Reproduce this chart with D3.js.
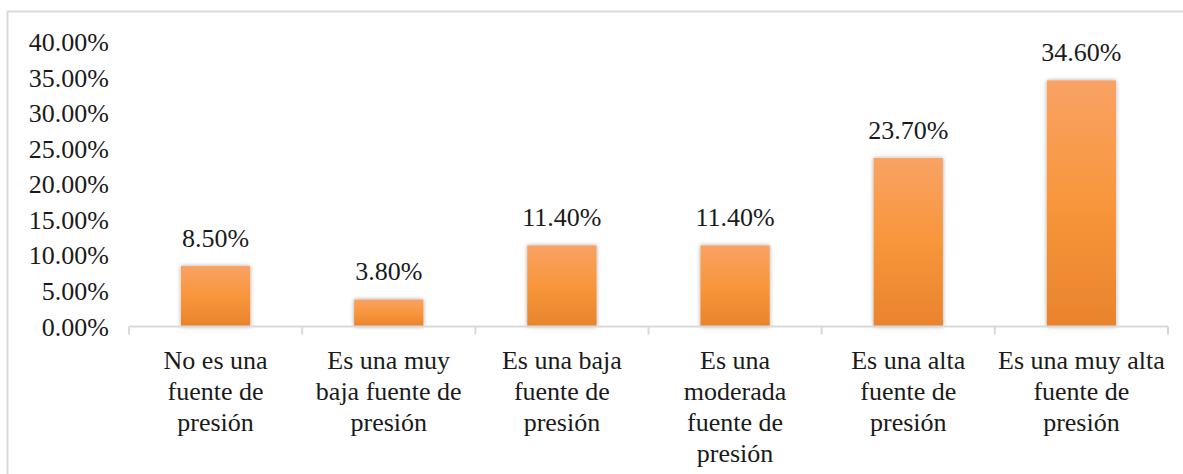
<!DOCTYPE html>
<html>
<head>
<meta charset="utf-8">
<script src="https://cdn.jsdelivr.net/npm/d3@7"></script>
<style>
  html, body { margin: 0; padding: 0; background: #ffffff; }
  svg { display: block; }
  svg text { font-family: "Times New Roman", "Liberation Serif", "DejaVu Serif", serif; fill: #1a1a1a; }
</style>
</head>
<body>
<svg id="chart" width="1183" height="474"></svg>
<script>
// Categories (one label per line) and their percentages
const categories = [
  ["No es una", "fuente de", "presión"],
  ["Es una muy", "baja fuente de", "presión"],
  ["Es una baja", "fuente de", "presión"],
  ["Es una", "moderada", "fuente de", "presión"],
  ["Es una alta", "fuente de", "presión"],
  ["Es una muy alta", "fuente de", "presión"]
];
const values = [8.5, 3.8, 11.4, 11.4, 23.7, 34.6];
const yTicks = [0, 5, 10, 15, 20, 25, 30, 35, 40];

const svg = d3.select("#chart");
const W = 1183, H = 474;
const fontSize = 26;
const serif = "'Times New Roman', 'Liberation Serif', 'DejaVu Serif', serif";

// Outer frame (runs past the right and bottom edges)
svg.append("rect")
  .attr("x", 7.5).attr("y", 11.5)
  .attr("width", W + 10).attr("height", H + 10)
  .attr("fill", "#ffffff")
  .attr("stroke", "#d9d9d9")
  .attr("stroke-width", 2);

const plot = { left: 129, right: 1168, top: 42, bottom: 326.5 };

const x = d3.scaleBand()
  .domain(d3.range(categories.length))
  .range([plot.left, plot.right])
  .paddingInner(0.6)
  .paddingOuter(0.3);

const y = d3.scaleLinear()
  .domain([0, 40])
  .range([plot.bottom, plot.top]);

// Bar fill gradient and soft shadow
const defs = svg.append("defs");
const grad = defs.append("linearGradient")
  .attr("id", "barFill").attr("x1", 0).attr("y1", 0).attr("x2", 0).attr("y2", 1);
grad.append("stop").attr("offset", "0%").attr("stop-color", "#f9a264");
grad.append("stop").attr("offset", "50%").attr("stop-color", "#f8963b");
grad.append("stop").attr("offset", "100%").attr("stop-color", "#e9832d");

const shadow = defs.append("filter").attr("id", "barShadow")
  .attr("x", "-30%").attr("y", "-10%").attr("width", "160%").attr("height", "120%");
shadow.append("feDropShadow")
  .attr("dx", 0).attr("dy", 0).attr("stdDeviation", 2.2)
  .attr("flood-color", "#000000").attr("flood-opacity", 0.35);

// Y axis labels (no axis line)
const yAxis = d3.axisLeft(y)
  .tickValues(yTicks)
  .tickSize(0)
  .tickPadding(0)
  .tickFormat(d => d.toFixed(2) + "%");
const gy = svg.append("g")
  .attr("transform", "translate(109,0)")
  .call(yAxis)
  .attr("font-family", serif)
  .attr("font-size", fontSize);
gy.select(".domain").remove();
gy.selectAll("text")
  .attr("fill", "#1a1a1a")
  .attr("dy", "0.33em");

// Bars
svg.append("g").selectAll("rect")
  .data(values)
  .join("rect")
  .attr("x", (d, i) => x(i))
  .attr("width", x.bandwidth())
  .attr("y", d => y(d))
  .attr("height", d => y(0) - y(d))
  .attr("fill", "url(#barFill)")
  .attr("filter", "url(#barShadow)");

// X axis line with category-boundary ticks
const step = x.step();
const boundaries = d3.range(categories.length + 1).map(i => plot.left + i * step);
svg.append("line")
  .attr("x1", plot.left).attr("x2", plot.right)
  .attr("y1", plot.bottom).attr("y2", plot.bottom)
  .attr("stroke", "#d9d9d9").attr("stroke-width", 2);
svg.append("g").selectAll("line")
  .data(boundaries)
  .join("line")
  .attr("x1", d => d).attr("x2", d => d)
  .attr("y1", plot.bottom).attr("y2", plot.bottom + 8)
  .attr("stroke", "#d9d9d9").attr("stroke-width", 2);

// Value labels above bars
svg.append("g")
  .attr("font-family", serif)
  .selectAll("text")
  .data(values)
  .join("text")
  .attr("x", (d, i) => x(i) + x.bandwidth() / 2)
  .attr("y", d => y(d) - 19)
  .attr("text-anchor", "middle")
  .attr("font-size", fontSize)
  .text(d => d.toFixed(2) + "%");

// Category labels, one tspan per line
const catG = svg.append("g").attr("font-family", serif);
categories.forEach((lines, i) => {
  const t = catG.append("text")
    .attr("text-anchor", "middle")
    .attr("font-size", fontSize);
  lines.forEach((line, j) => {
    t.append("tspan")
      .attr("x", x(i) + x.bandwidth() / 2)
      .attr("y", plot.bottom + 42 + j * 31)
      .text(line);
  });
});
</script>
</body>
</html>
